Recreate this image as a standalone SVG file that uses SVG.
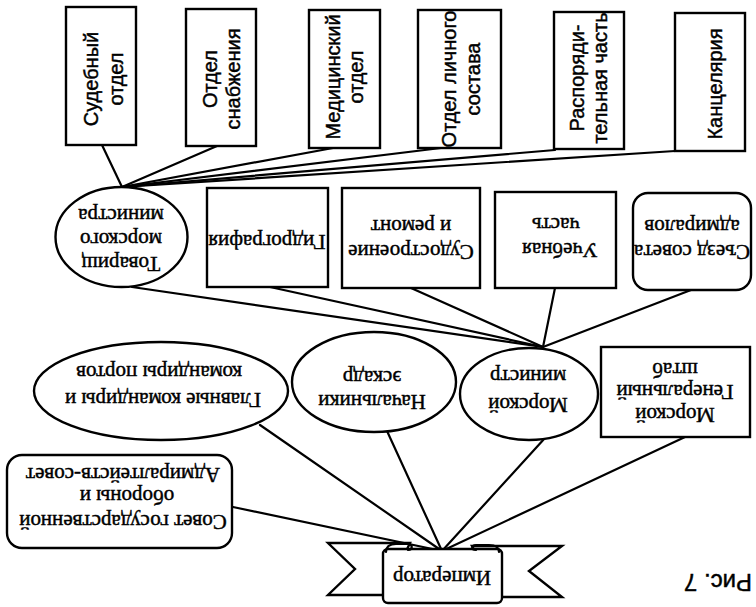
<svg xmlns="http://www.w3.org/2000/svg" width="756" height="607" viewBox="0 0 756 607">
<style>
.box{fill:#fff;stroke:#000;stroke-width:2.4}
.ln{stroke:#000;stroke-width:2.2;fill:none;stroke-linecap:round}
text{text-anchor:middle;dominant-baseline:central;fill:#000;stroke:#000;stroke-width:0.45}
.sans{font-family:"Liberation Sans",Arial,sans-serif;font-size:20px}
.serif{font-family:"Liberation Serif","Times New Roman",serif;font-size:21px}
.cap{font-family:"Liberation Sans",Arial,sans-serif;font-size:24px}
</style>
<rect width="756" height="607" fill="#fff"/>
<g id="connectors">
<line class="ln" x1="102" y1="145" x2="122" y2="187"/>
<line class="ln" x1="217" y1="146" x2="122" y2="187"/>
<line class="ln" x1="333" y1="148" x2="122" y2="187"/>
<line class="ln" x1="441" y1="148" x2="122" y2="187"/>
<line class="ln" x1="555" y1="150" x2="122" y2="187"/>
<line class="ln" x1="675" y1="151" x2="122" y2="187"/>
<line class="ln" x1="132" y1="287" x2="543" y2="347"/>
<line class="ln" x1="270" y1="287" x2="543" y2="347"/>
<line class="ln" x1="411" y1="288" x2="543" y2="347"/>
<line class="ln" x1="555" y1="288" x2="543" y2="347"/>
<line class="ln" x1="691" y1="290" x2="543" y2="347"/>
<line class="ln" x1="685" y1="437" x2="442" y2="551"/>
<line class="ln" x1="545" y1="438" x2="442" y2="551"/>
<line class="ln" x1="387" y1="431" x2="442" y2="551"/>
<line class="ln" x1="260" y1="425" x2="442" y2="551"/>
<line class="ln" x1="233" y1="507" x2="442" y2="551"/>
</g>
<g id="n-sudebny"><rect class="box" x="66" y="7" width="70" height="138"/>
<text class="sans" x="91" y="79" transform="rotate(-90 91 79)">Судебный</text>
<text class="sans" x="116" y="79" transform="rotate(-90 116 79)">отдел</text></g>
<g id="n-snab"><rect class="box" x="186" y="9" width="70" height="137"/>
<text class="sans" x="210" y="79" transform="rotate(-90 210 79)">Отдел</text>
<text class="sans" x="233" y="79" transform="rotate(-90 233 79)">снабжения</text></g>
<g id="n-med"><rect class="box" x="309" y="10" width="71" height="138"/>
<text class="sans" x="333" y="77" transform="rotate(-90 333 77)">Медицинский</text>
<text class="sans" x="356" y="77" transform="rotate(-90 356 77)">отдел</text></g>
<g id="n-lich"><rect class="box" x="418" y="10" width="83" height="138"/>
<text class="sans" x="449" y="79" transform="rotate(-90 449 79)">Отдел личного</text>
<text class="sans" x="473" y="79" transform="rotate(-90 473 79)">состава</text></g>
<g id="n-rasp"><rect class="box" x="554" y="12" width="70" height="137"/>
<text class="sans" x="577" y="78" transform="rotate(-90 577 78)">Распоряди-</text>
<text class="sans" x="600" y="78" transform="rotate(-90 600 78)">тельная часть</text></g>
<g id="n-kanc"><rect class="box" x="675" y="13" width="70" height="138"/>
<text class="sans" x="715" y="84" transform="rotate(-90 715 84)">Канцелярия</text></g>
<g id="n-tovarish"><ellipse class="box" cx="121.5" cy="237" rx="66" ry="50"/>
<text class="serif" x="121" y="264" transform="rotate(180 121 264)">Товарищ</text>
<text class="serif" x="121" y="240" transform="rotate(180 121 240)">морского</text>
<text class="serif" x="121" y="216" transform="rotate(180 121 216)">министра</text></g>
<g id="n-gidro"><rect class="box" x="207" y="188" width="121" height="99"/>
<text class="serif" x="267" y="242" transform="rotate(180 267 242)">Гидрография</text></g>
<g id="n-sudostr"><rect class="box" x="342" y="188" width="138" height="100"/>
<text class="serif" x="411" y="252" transform="rotate(180 411 252)">Судостроение</text>
<text class="serif" x="411" y="227" transform="rotate(180 411 227)">и ремонт</text></g>
<g id="n-ucheb"><rect class="box" x="495" y="192" width="121" height="96"/>
<text class="serif" x="560" y="250" transform="rotate(180 560 250)">Учебная</text>
<text class="serif" x="556" y="225" transform="rotate(180 556 225)">часть</text></g>
<g id="n-sezd"><rect class="box" x="633" y="193" width="118" height="97" rx="15"/>
<text class="serif" x="692" y="252" transform="rotate(180 692 252)">Съезд совета</text>
<text class="serif" x="692" y="227" transform="rotate(180 692 227)">адмиралов</text></g>
<g id="n-glavnye"><ellipse class="box" cx="161" cy="391" rx="127" ry="49"/>
<text class="serif" x="163" y="400" transform="rotate(180 163 400)">Главные командиры и</text>
<text class="serif" x="159" y="373" transform="rotate(180 159 373)">командиры портов</text></g>
<g id="n-nachalniki"><ellipse class="box" cx="374" cy="382" rx="82" ry="50"/>
<text class="serif" x="372" y="402" transform="rotate(180 372 402)">Начальники</text>
<text class="serif" x="372" y="378" transform="rotate(180 372 378)">эскадр</text></g>
<g id="n-ministr"><ellipse class="box" cx="529" cy="394" rx="69" ry="46"/>
<text class="serif" x="528" y="405" transform="rotate(180 528 405)">Морской</text>
<text class="serif" x="528" y="377" transform="rotate(180 528 377)">министр</text></g>
<g id="n-genshtab"><rect class="box" x="601" y="347" width="149" height="90"/>
<text class="serif" x="675" y="415" transform="rotate(180 675 415)">Морской</text>
<text class="serif" x="675" y="392" transform="rotate(180 675 392)">Генеральный</text>
<text class="serif" x="675" y="370" transform="rotate(180 675 370)">штаб</text></g>
<g id="n-sovet"><rect class="box" x="7" y="455" width="225" height="93" rx="15"/>
<text class="serif" x="123" y="522" transform="rotate(180 123 522)">Совет государственной</text>
<text class="serif" x="127" y="497" transform="rotate(180 127 497)">обороны и</text>
<text class="serif" x="123" y="475" transform="rotate(180 123 475)">Адмиралтейств-совет</text></g>
<g id="n-imperator">
<path class="box" d="M410,543 L328,543 L355,569 L328,595 L385,595 Z"/>
<path class="box" d="M472,546 L562,546 L529,571 L562,597 L500,597 Z"/>
<rect class="box" x="383" y="549" width="119" height="54" rx="5"/>
<path class="ln" d="M386,552 C386,546 391,544 396,544 L408,544 C413,544 413,550 408,550"/>
<path class="ln" d="M499,552 C499,546 494,545 489,545 L476,545 C471,545 471,550 476,550"/>
<text class="serif" x="442" y="578" transform="rotate(180 442 578)">Император</text>
</g>
<text class="cap" x="718" y="582" transform="rotate(180 718 582)">Рис. 7</text>
</svg>
